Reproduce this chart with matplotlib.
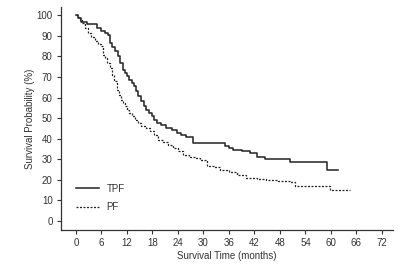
import matplotlib
matplotlib.use("Agg")
import matplotlib.pyplot as plt

plt.rcParams['font.family'] = ['Liberation Sans', 'DejaVu Sans']

tpf_t = [0, 0.6, 1.3, 2.5, 4.9, 6.0, 6.8, 7.6, 8.0, 8.6, 9.2, 9.8, 10.4, 11.1, 11.6, 12.1, 12.6,
         13.1, 13.6, 14.1, 14.7, 15.3, 16.0, 16.6, 17.2, 17.8, 18.4, 19.0, 20.0, 21.3, 22.5, 23.7,
         24.8, 26.0, 27.5, 35.0, 36.0, 37.0, 39.0, 41.0, 42.6, 44.5, 50.4, 59.0, 61.7]
tpf_s = [100, 98.5, 96.6, 95.5, 94, 92.2, 91.5, 90.6, 86.5, 84.5, 82.4, 80, 77, 73.5, 72, 70.5, 68.5,
         67, 65.5, 63, 60.6, 58.5, 56, 54, 52.5, 51, 49.3, 47.6, 46.5, 45, 44, 42.7,
         42, 41, 38, 36.5, 35.5, 34.6, 34, 33, 31.2, 30.2, 28.6, 25, 25]

pf_t = [0, 0.5, 1.0, 1.5, 2.1, 2.9, 3.6, 4.5, 5.2, 6.0, 6.4, 6.9, 7.4, 8.0, 8.5, 9.0, 9.6, 10.1,
        10.6, 11.0, 11.5, 12.0, 12.5, 13.1, 13.8, 14.6, 15.4, 16.4, 17.4, 18.4, 19.4, 20.5, 21.7,
        22.9, 24.0, 25.2, 26.5, 28.0, 29.2, 30.8, 32.5, 34.0, 36.0, 38.0, 40.0, 42.5, 44.8,
        47.5, 50.4, 51.5, 59.8, 64.6]
pf_s = [100, 99, 97.5, 96, 93.8, 91.4, 89.5, 87.3, 86, 85, 80.8, 79, 77, 74.3, 71, 68, 63.8, 61,
        59, 57.5, 55.7, 54, 52.5, 50.8, 49, 47.5, 46, 45, 43.5, 42, 39.5, 38.5, 37,
        35.5, 34, 32, 31, 30.5, 29.7, 26.5, 26, 25, 24, 22.5, 21, 20.5, 20,
        19.5, 18.8, 17, 15, 15]

x_ticks = [0, 6, 12, 18, 24, 30, 36, 42, 48, 54, 60, 66, 72]
y_ticks = [0, 10, 20, 30, 40, 50, 60, 70, 80, 90, 100]

fig = plt.figure(figsize=(4.0, 2.66), dpi=100)
ax = fig.add_axes([61/400, 1 - 230/266, (393-61)/400, (230-7)/266])

ax.plot(tpf_t, tpf_s, drawstyle='steps-post', color='#222222', lw=1.1, label='TPF')
ax.plot(pf_t, pf_s, drawstyle='steps-post', color='#222222', lw=0.9, ls=(0, (1.6, 1.2)), label='PF')

ax.set_xlim(-3.5, 74.6)
ax.set_ylim(-4.4, 104)
ax.set_xticks(x_ticks)
ax.set_yticks(y_ticks)
for s in ['top', 'right']:
    ax.spines[s].set_visible(False)
for s in ['left', 'bottom']:
    ax.spines[s].set_color('#333333')
    ax.spines[s].set_linewidth(0.9)
ax.tick_params(direction='out', length=3, width=0.8, colors='#333333', labelsize=7, pad=3)
ax.set_xlabel('Survival Time (months)', fontsize=7, color='#333333', labelpad=2)
ax.set_ylabel('Survival Probability (%)', fontsize=7, color='#333333', labelpad=1)

leg = ax.legend(loc='lower left', bbox_to_anchor=(0.02, 0.04), frameon=False, fontsize=7,
                handlelength=2.3, handletextpad=0.8, labelspacing=0.9)
for t in leg.get_texts():
    t.set_color('#333333')

fig.savefig('out.png', dpi=100)
